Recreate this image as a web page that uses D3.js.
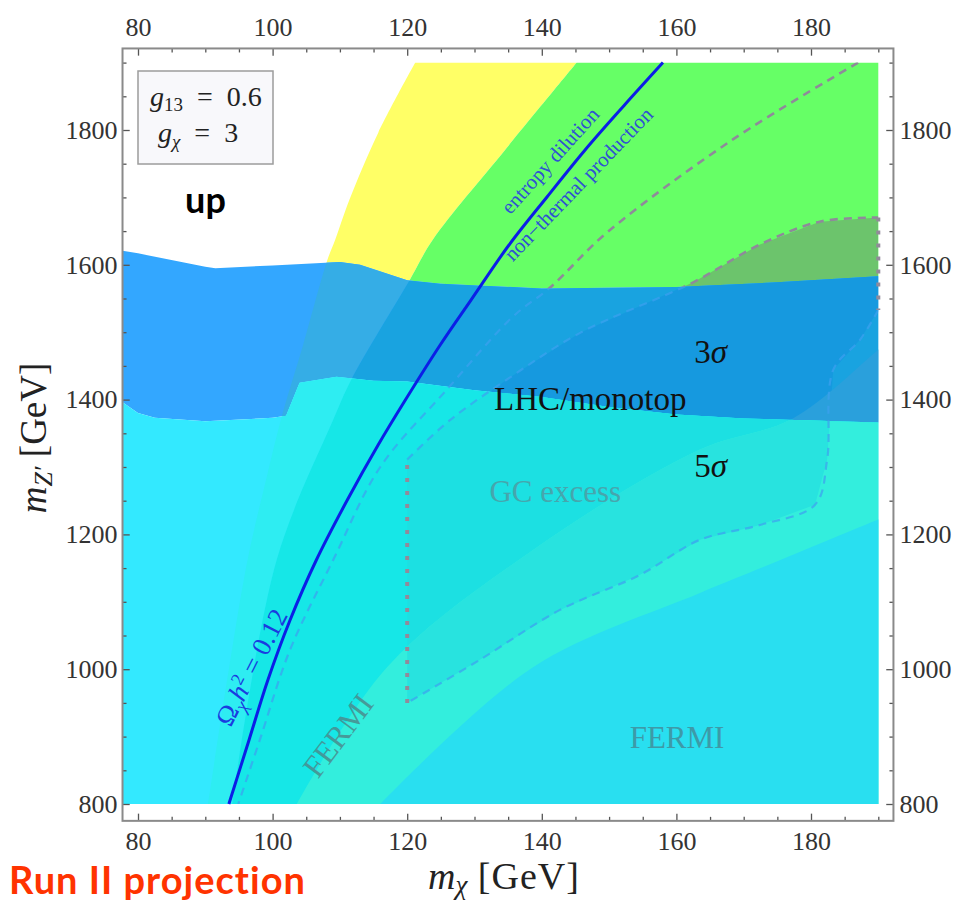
<!DOCTYPE html>
<html>
<head>
<meta charset="UTF-8">
<title>Run II projection</title>
<script src="https://d3js.org/d3.v7.min.js"></script>
<style>
  body { margin: 0; background: #fff; }
  text { font-family: "Liberation Serif", "Times New Roman", serif; }
  text.sans { font-family: Lato, "Open Sans", sans-serif; font-weight: 700; }
</style>
</head>
<body>
<div id="chart"></div>
<script>
// tick labels
const xTicks = [80, 100, 120, 140, 160, 180];
const yTicks = [800, 1000, 1200, 1400, 1600, 1800];

// LHC/monotop reach, [m_chi, m_Z'] : upper edge (3 sigma) and lower edge (5 sigma)
const lhcUpper = [[77.7,1621],[80,1617],[90,1597],[91.5,1595],[100,1599],[110,1604],[113,1600],[120,1577],[125,1572],[140,1565],[160,1567],[175,1574],[190,1583]];
const lhcLower = [[77.7,1396],[80,1380],[82.5,1373],[90,1368],[100,1373],[102,1376],[104,1425],[109.5,1434],[115,1428],[120,1427],[130,1414],[140,1404],[150,1389],[160,1378],[170,1372],[180,1369],[190,1366]];

// diagonal bands
const bandLeft = [[90.4,800],[93.5,1000],[96.3,1163],[99,1280],[101.5,1380],[104.5,1480],[108.1,1606],[109.3,1637],[111.4,1696],[115.7,1796],[121.2,1900]];
const bandRight = [[94,800],[100.6,1162],[109,1370],[111.7,1430],[120.4,1578],[123.8,1637],[134.6,1771],[145.2,1900]];
const fermiUpper = [[103.6,800],[117,1003],[138.7,1177],[163.5,1326],[177.3,1372],[190,1474],[192,1490]];
const fermiLower = [[116,800],[138.7,1003],[163.5,1113],[175,1160],[190,1222],[192,1230]];

// GC excess region (closed contour) and outer GC contour
const gcRegion = [[120,950],[120,1311],[126.4,1370],[135.3,1433],[145.7,1499],[162.5,1574],[172.4,1630],[181.3,1664],[190,1670],[190,1533],[187.3,1489],[183.3,1444],[182.4,1311],[180.6,1244],[172.4,1214],[163.5,1192],[154.6,1140],[142.7,1088],[130.8,1014]];
const outerContour = [[187,1900],[168.4,1786],[149.7,1648],[141.2,1566],[135.7,1523],[125.9,1415],[116,1300],[109,1162],[102.6,1029],[98.1,895],[94.9,800]];

// relic density line Omega h^2 = 0.12
const relicLine = [[93.5,800],[96.5,895],[99.3,984],[102.6,1073],[106.5,1162],[111.1,1251],[115.7,1333],[119.7,1399],[124.9,1481],[129.5,1548],[135.1,1629],[140.8,1701],[146.4,1770],[152.2,1836],[158,1900]];

const width = 957, height = 902;
const x = d3.scaleLinear().domain([80, 180]).range([138, 811]);
const y = d3.scaleLinear().domain([800, 1800]).range([804, 130]);
const xFrame = [77.7, 192.25], yFrame = [775, 1921];
const xData = [77.7, 190], yData = [800, 1900];

const svg = d3.select("#chart").append("svg")
    .attr("width", width)
    .attr("height", height);
const defs = svg.append("defs");

const line = d3.line().x(d => x(d[0])).y(d => y(d[1]));
const smooth = d3.line().x(d => x(d[0])).y(d => y(d[1])).curve(d3.curveCatmullRom);
const poly = pts => line(pts) + "Z";
const pt = p => "L" + x(p[0]) + "," + y(p[1]);

// region between two smooth edges, or right of one smooth edge
const between = (a, b) => smooth(a) + smooth(b.slice().reverse()).replace(/^M/, "L") + "Z";
function rightOf(c) {
    const last = c[c.length - 1];
    return smooth(c) + pt([196, last[1]]) + pt([196, 790]) + pt([c[0][0], 790]) + "Z";
}

function clip(id, d) {
    defs.append("clipPath").attr("id", id).append("path").attr("d", d);
}
clip("zone-above", poly(lhcUpper.concat([[xData[1], yData[1]], [xData[0], yData[1]]])));
clip("zone-band", poly(lhcUpper.concat(lhcLower.slice().reverse())));
clip("zone-below", poly(lhcLower.concat([[xData[1], yData[0]], [xData[0], yData[0]]])));
clip("zone-lower", poly(lhcUpper.concat([[xData[1], yData[0]], [xData[0], yData[0]]])));
clip("gc", poly(gcRegion));

const regionA = between(bandLeft, bandRight);
const regionB = rightOf(bandRight);
const regionC = rightOf(fermiUpper);
const regionD = rightOf(fermiLower);
const regionGC = poly(gcRegion);
const zoneRect = poly([[xData[0], yData[0]], [xData[1], yData[0]], [xData[1], yData[1]], [xData[0], yData[1]]]);

function fillZone(zone, layers) {
    const g = svg.append("g").attr("clip-path", "url(#" + zone + ")");
    layers.forEach(([d, color, inner]) => {
        const host = inner ? g.append("g").attr("clip-path", "url(#" + inner + ")") : g;
        host.append("path").attr("d", d).attr("fill", color);
    });
}
// above the LHC reach
fillZone("zone-above", [
    [regionA, "#ffff66"],
    [regionB, "#66ff66"],
    [regionGC, "#6cc46c"]
]);
// 3 sigma band
fillZone("zone-band", [
    [zoneRect, "#33a7ff"],
    [regionA, "#35ade6"],
    [regionB, "#19a3e0"],
    [regionGC, "#1699df"],
    [regionC, "#2aa0dc"]
]);
// 5 sigma region
fillZone("zone-below", [
    [zoneRect, "#33e9ff"],
    [regionA, "#2eedf2"],
    [regionB, "#16e7e7"],
    [regionGC, "#1ce0e2"],
    [regionC, "#33eedd"],
    [regionC, "#28e3df", "gc"],
    [regionD, "#29dff0"]
]);

// contours
function dashed(pts) {
    svg.append("path").attr("d", smooth(pts)).attr("clip-path", "url(#zone-above)")
        .attr("fill", "none").attr("stroke", "#8f8a9a").attr("stroke-width", 2.6)
        .attr("stroke-dasharray", "8,6");
    svg.append("path").attr("d", smooth(pts)).attr("clip-path", "url(#zone-lower)")
        .attr("fill", "none").attr("stroke", "#3d9ff0").attr("stroke-width", 2.2)
        .attr("stroke-dasharray", "8,6").attr("opacity", 0.7);
}
function dotted(pts) {
    svg.append("path").attr("d", line(pts))
        .attr("fill", "none").attr("stroke", "#928a9a").attr("stroke-width", 4)
        .attr("stroke-dasharray", "4,9");
}
dashed(outerContour);
dashed(gcRegion.slice(1, 9));
dashed(gcRegion.slice(9).concat([gcRegion[0]]));
dotted(gcRegion.slice(8, 10));
dotted(gcRegion.slice(0, 2));

svg.append("path").attr("d", smooth(relicLine))
    .attr("fill", "none").attr("stroke", "#0b1fe6").attr("stroke-width", 3);

// labels in the plot
function label(txt, px, py, size, color, rot, center) {
    const t = svg.append("text")
        .attr("text-anchor", "middle")
        .attr("font-size", size)
        .attr("fill", color)
        .attr("transform", "translate(" + x(px) + "," + y(py) + ")rotate(" + rot + ")");
    if (center) t.attr("dy", ".35em");
    t.text(txt);
    return t;
}
label("entropy dilution", 141.2, 1755, 21, "#2f52d2", -48, true);
label("non\u2212thermal production", 145.4, 1720, 21, "#2f52d2", -46, true);
label("FERMI", 109.7, 902, 31, "#4a8c8e", -53, true).attr("opacity", 0.85);
label("FERMI", 160.1, 883, 31, "#3d9aa8", 0);
label("GC excess", 142, 1248, 31, "#46a6ad", 0);
label("LHC/monotop", 147.2, 1385, 33, "#111", 0);

const s3 = label("", 165.1, 1454, 33, "#111", 0);
s3.append("tspan").text("3");
s3.append("tspan").attr("font-style", "italic").text("\u03c3");
const s5 = label("", 165.1, 1285, 33, "#111", 0);
s5.append("tspan").text("5");
s5.append("tspan").attr("font-style", "italic").text("\u03c3");

const om = label("", 96.8, 1003, 27, "#1a3ce0", -63, true);
om.append("tspan").text("\u03a9");
om.append("tspan").attr("font-style", "italic").attr("font-size", 19).attr("dy", 6).text("\u03c7");
om.append("tspan").attr("font-style", "italic").attr("dy", -6).text("h");
om.append("tspan").attr("font-size", 18).attr("dy", -10).text("2");
om.append("tspan").attr("dy", 10).text(" = 0.12");

// coupling box
svg.append("rect")
    .attr("x", 138).attr("y", 71).attr("width", 135).attr("height", 93)
    .attr("fill", "#f8f8fb").attr("stroke", "#9c9c9c").attr("stroke-width", 1.5);
const g1 = svg.append("text").attr("x", 150).attr("y", 106).attr("font-size", 28).attr("fill", "#222");
g1.append("tspan").attr("font-style", "italic").text("g");
g1.append("tspan").attr("font-size", 19).attr("dy", 5).text("13");
g1.append("tspan").attr("dy", -5).text("\u2002=\u20020.6");
const g2 = svg.append("text").attr("x", 158).attr("y", 142).attr("font-size", 28).attr("fill", "#222");
g2.append("tspan").attr("font-style", "italic").text("g");
g2.append("tspan").attr("font-style", "italic").attr("font-size", 19).attr("dy", 6).text("\u03c7");
g2.append("tspan").attr("dy", -6).text("\u2002=\u20023");

svg.append("text").attr("class", "sans")
    .attr("x", x(87)).attr("y", y(1677))
    .attr("font-size", 36).attr("fill", "#000")
    .text("up");

// frame and ticks
const xMinor = d3.range(80, 191, 5);
const yMinor = d3.range(800, 1901, 50);
function styleAxis(g, horizontal) {
    g.attr("font-size", 26);
    g.select(".domain").remove();
    g.selectAll("line").attr("stroke", "#555").attr("stroke-width", 1.3);
    g.selectAll("text").attr("fill", "#333");
    g.selectAll(".tick").filter(d => (horizontal ? xTicks : yTicks).includes(d))
        .select("line").each(function () {
            const l = d3.select(this);
            if (horizontal) l.attr("y2", +l.attr("y2") * 1.8);
            else l.attr("x2", +l.attr("x2") * 1.8);
        });
}
const fmtX = d => xTicks.includes(d) ? d : "";
const fmtY = d => yTicks.includes(d) ? d : "";
svg.append("g").attr("transform", "translate(0," + y(yFrame[0]) + ")")
    .call(d3.axisBottom(x).tickValues(xMinor).tickSizeInner(-4).tickSizeOuter(0).tickPadding(11).tickFormat(fmtX))
    .call(g => styleAxis(g, true));
svg.append("g").attr("transform", "translate(0," + y(yFrame[1]) + ")")
    .call(d3.axisTop(x).tickValues(xMinor).tickSizeInner(-4).tickSizeOuter(0).tickPadding(12).tickFormat(fmtX))
    .call(g => styleAxis(g, true));
svg.append("g").attr("transform", "translate(" + x(xFrame[0]) + ",0)")
    .call(d3.axisLeft(y).tickValues(yMinor).tickSizeInner(-4).tickSizeOuter(0).tickPadding(5).tickFormat(fmtY))
    .call(g => styleAxis(g, false));
svg.append("g").attr("transform", "translate(" + x(xFrame[1]) + ",0)")
    .call(d3.axisRight(y).tickValues(yMinor).tickSizeInner(-4).tickSizeOuter(0).tickPadding(6).tickFormat(fmtY))
    .call(g => styleAxis(g, false));

svg.append("rect")
    .attr("x", x(xFrame[0])).attr("y", y(yFrame[1]))
    .attr("width", x(xFrame[1]) - x(xFrame[0]))
    .attr("height", y(yFrame[0]) - y(yFrame[1]))
    .attr("fill", "none").attr("stroke", "#8a8a8a").attr("stroke-width", 2);

// axis titles
const xt = svg.append("text").attr("x", 428).attr("y", 889)
    .attr("font-size", 38).attr("fill", "#222");
xt.append("tspan").attr("font-style", "italic").text("m");
xt.append("tspan").attr("font-style", "italic").attr("font-size", 27).attr("dy", 5).text("\u03c7");
xt.append("tspan").attr("dy", -5).attr("letter-spacing", 1).text(" [GeV]");

const yt = svg.append("text").attr("transform", "translate(46,438)rotate(-90)")
    .attr("text-anchor", "middle").attr("font-size", 37).attr("fill", "#222");
yt.append("tspan").attr("font-style", "italic").text("m");
yt.append("tspan").attr("font-style", "italic").attr("font-size", 26).attr("dy", 6).text("Z\u2032");
yt.append("tspan").attr("dy", -6).text(" [GeV]");

svg.append("text").attr("class", "sans")
    .attr("x", 9).attr("y", 894)
    .attr("font-size", 38).attr("letter-spacing", 1).attr("fill", "#ff3300")
    .text("Run II projection");
</script>
</body>
</html>
